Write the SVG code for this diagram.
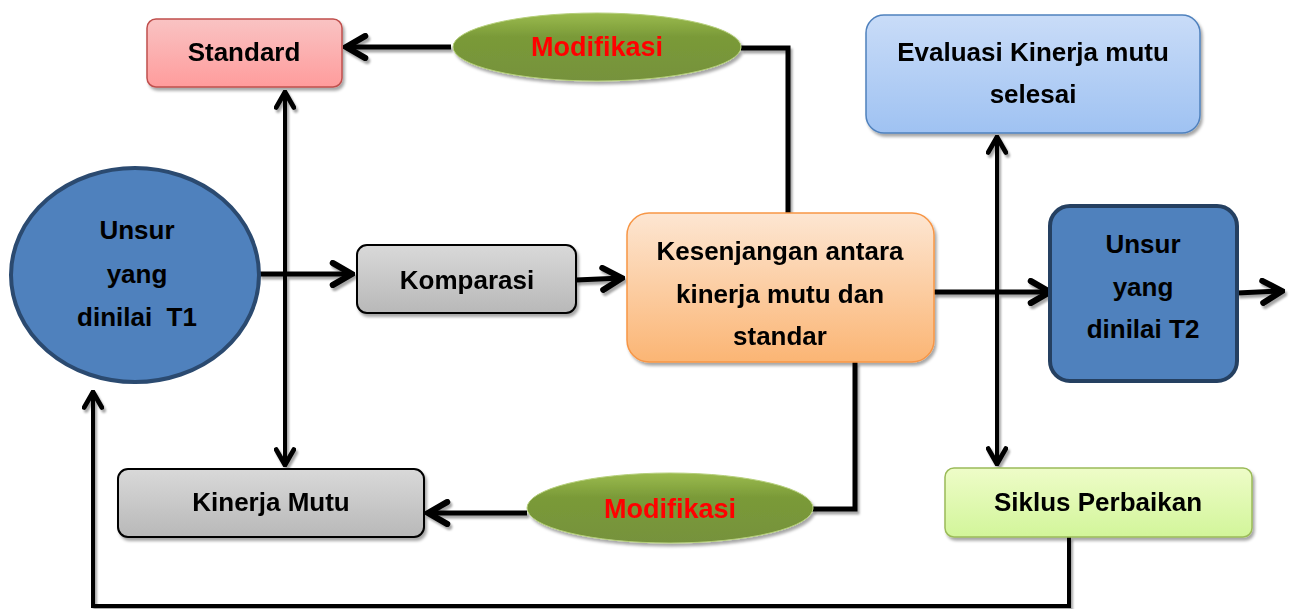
<svg xmlns="http://www.w3.org/2000/svg" width="1296" height="609" viewBox="0 0 1296 609">
<defs>
<linearGradient id="gPink" x1="0" y1="0" x2="0" y2="1"><stop offset="0" stop-color="#f9c3c3"/><stop offset="1" stop-color="#ff9c9c"/></linearGradient>
<linearGradient id="gGreen" x1="0" y1="0" x2="0" y2="1"><stop offset="0" stop-color="#9bbb4e"/><stop offset="0.35" stop-color="#7a9a38"/><stop offset="1" stop-color="#76923c"/></linearGradient>
<linearGradient id="gBlueL" x1="0" y1="0" x2="0" y2="1"><stop offset="0" stop-color="#c9dcf8"/><stop offset="1" stop-color="#9fc2f2"/></linearGradient>
<linearGradient id="gGray" x1="0" y1="0" x2="0" y2="1"><stop offset="0" stop-color="#d9d9d9"/><stop offset="1" stop-color="#b8b8b8"/></linearGradient>
<linearGradient id="gOrange" x1="0" y1="0" x2="0" y2="1"><stop offset="0" stop-color="#fde6d2"/><stop offset="1" stop-color="#fbb574"/></linearGradient>
<linearGradient id="gLime" x1="0" y1="0" x2="0" y2="1"><stop offset="0" stop-color="#eefcc8"/><stop offset="1" stop-color="#d2f59a"/></linearGradient>
<filter id="sh" x="-10%" y="-10%" width="120%" height="130%"><feDropShadow dx="2" dy="3" stdDeviation="1.5" flood-color="#000" flood-opacity="0.35"/></filter>
<filter id="lsh" x="-5%" y="-5%" width="110%" height="110%"><feDropShadow dx="2" dy="3" stdDeviation="0.8" flood-color="#000" flood-opacity="0.35"/></filter>
<marker id="ar" viewBox="0 0 10 10" refX="9" refY="5" markerWidth="5.5" markerHeight="5.5" markerUnits="strokeWidth" orient="auto-start-reverse">
<path d="M2,1 L9,5 L2,9" fill="none" stroke="#000" stroke-width="2.2" stroke-linecap="round" stroke-linejoin="miter"/>
</marker>
</defs>
<style>
text{font-family:"Liberation Sans",Arial,sans-serif;font-weight:bold;text-anchor:middle;fill:#000;white-space:pre;}
.t{font-size:26px;}
.m{font-size:27px;fill:#ff0000;}
.c{fill:none;stroke:#000;stroke-width:5;}
.thin{fill:none;stroke:#000;stroke-width:4;}
</style>
<g id="connectors" filter="url(#lsh)">
<line class="c" x1="451" y1="47" x2="346" y2="47" marker-end="url(#ar)"/>
<polyline class="c" points="741,48 788,48 788,213"/>
<line class="thin" x1="285" y1="92" x2="285" y2="465" marker-start="url(#ar)" marker-end="url(#ar)"/>
<line class="c" x1="259" y1="274" x2="352" y2="274" marker-end="url(#ar)"/>
<line class="c" x1="576" y1="280" x2="622" y2="278" marker-end="url(#ar)"/>
<line class="thin" x1="997" y1="137" x2="997" y2="464" marker-start="url(#ar)" marker-end="url(#ar)"/>
<line class="c" x1="934" y1="292" x2="1050" y2="292" marker-end="url(#ar)"/>
<line class="c" x1="1237" y1="293" x2="1282" y2="291" marker-end="url(#ar)"/>
<polyline class="c" points="855,362 855,509 812,509"/>
<line class="c" x1="527" y1="513" x2="428" y2="513" marker-end="url(#ar)"/>
<polyline class="thin" points="1069,537 1069,606 93,606 93,392" marker-end="url(#ar)"/>
</g>
<g id="standard" filter="url(#sh)">
<rect x="147" y="19" width="195" height="68" rx="9" fill="url(#gPink)" stroke="#c0504d" stroke-width="1.5"/>
<text class="t" x="244" y="61">Standard</text>
</g>
<g id="modifikasi-top" filter="url(#sh)">
<ellipse cx="597" cy="47" rx="144" ry="34" fill="url(#gGreen)" stroke="#b5cf7a" stroke-width="1"/>
<text class="m" x="597" y="56">Modifikasi</text>
</g>
<g id="evaluasi" filter="url(#sh)">
<rect x="866" y="15" width="334" height="118" rx="18" fill="url(#gBlueL)" stroke="#4f81bd" stroke-width="1.5"/>
<text class="t" x="1033" y="61">Evaluasi Kinerja mutu</text>
<text class="t" x="1033" y="103">selesai</text>
</g>
<g id="unsur-t1">
<ellipse cx="135" cy="275" rx="124" ry="107" fill="#4f81bd" stroke="#2b4a70" stroke-width="4"/>
<text class="t" x="137" y="239">Unsur</text>
<text class="t" x="137" y="283">yang</text>
<text class="t" x="137" y="326">dinilai  T1</text>
</g>
<g id="komparasi" filter="url(#sh)">
<rect x="357" y="245" width="219" height="68" rx="10" fill="url(#gGray)" stroke="#000" stroke-width="2"/>
<text class="t" x="467" y="289">Komparasi</text>
</g>
<g id="kesenjangan" filter="url(#sh)">
<rect x="627" y="213" width="307" height="149" rx="22" fill="url(#gOrange)" stroke="#f79646" stroke-width="1.5"/>
<text class="t" x="780" y="260">Kesenjangan antara</text>
<text class="t" x="780" y="303">kinerja mutu dan</text>
<text class="t" x="780" y="345">standar</text>
</g>
<g id="unsur-t2">
<rect x="1050" y="206" width="187" height="175" rx="20" fill="#4f81bd" stroke="#254061" stroke-width="4"/>
<text class="t" x="1143" y="253">Unsur</text>
<text class="t" x="1143" y="296">yang</text>
<text class="t" x="1143" y="338">dinilai T2</text>
</g>
<g id="kinerja-mutu" filter="url(#sh)">
<rect x="118" y="469" width="306" height="68" rx="10" fill="url(#gGray)" stroke="#000" stroke-width="2"/>
<text class="t" x="271" y="511">Kinerja Mutu</text>
</g>
<g id="modifikasi-bottom" filter="url(#sh)">
<ellipse cx="670" cy="508" rx="143" ry="35" fill="url(#gGreen)" stroke="#b5cf7a" stroke-width="1"/>
<text class="m" x="670" y="518">Modifikasi</text>
</g>
<g id="siklus" filter="url(#sh)">
<rect x="945" y="468" width="307" height="69" rx="9" fill="url(#gLime)" stroke="#9bbb59" stroke-width="1.5"/>
<text class="t" x="1098" y="511">Siklus Perbaikan</text>
</g>
</svg>
